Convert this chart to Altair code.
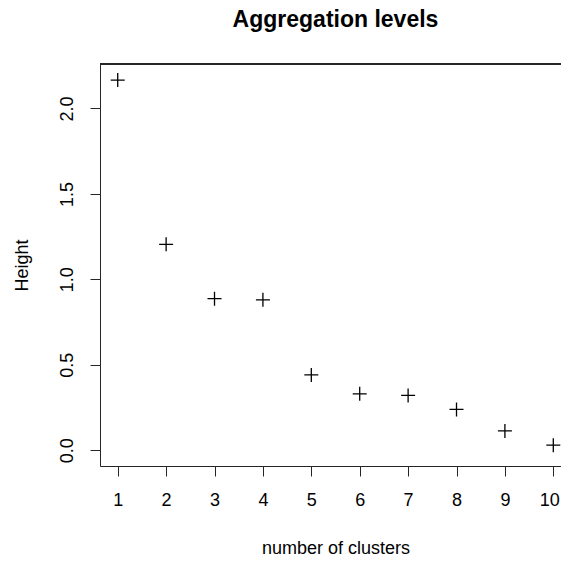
import altair as alt
import pandas as pd

clusters = [1, 2, 3, 4, 5, 6, 7, 8, 9, 10]
heights = [2.166, 1.205, 0.887, 0.880, 0.441, 0.330, 0.321, 0.239, 0.113, 0.030]
x_ticks = [1, 2, 3, 4, 5, 6, 7, 8, 9, 10]
y_ticks = [0.0, 0.5, 1.0, 1.5, 2.0]

df = pd.DataFrame({"k": clusters, "h": heights})

FONT = "Liberation Sans"
LINE = "#262626"

base = alt.Chart(df)

points = base.mark_point(
    shape="M-1,0H1M0,-1V1",
    filled=False,
    size=196,
    stroke="black",
    strokeWidth=1.3,
    opacity=1,
).encode(
    x=alt.X(
        "k:Q",
        scale=alt.Scale(domain=[0.634, 10.159], nice=False, zero=False),
        axis=alt.Axis(
            values=x_ticks,
            format="d",
            title="number of clusters",
            titleX=235.5,
            titleY=82,
            titleAlign="center",
            titleBaseline="middle",
            titleFont=FONT,
            titleFontSize=18,
            titleFontWeight="normal",
            titleColor="black",
            labelFont=FONT,
            labelFontSize=18,
            labelColor="black",
            labelPadding=15,
            labelOffset=alt.ExprRef("datum.value == 10 ? -4 : 0"),
            labelFlush=False,
            labelOverlap=False,
            tickSize=10,
            tickColor=LINE,
            tickWidth=1,
            domainColor=LINE,
            domainWidth=1,
            grid=False,
        ),
    ),
    y=alt.Y(
        "h:Q",
        scale=alt.Scale(domain=[-0.092, 2.26], nice=False, zero=False),
        axis=alt.Axis(
            values=y_ticks,
            format=".1f",
            title="Height",
            titleX=-78,
            titleY=201,
            titleAngle=270,
            titleAlign="center",
            titleBaseline="middle",
            titleFont=FONT,
            titleFontSize=18,
            titleFontWeight="normal",
            titleColor="black",
            labelFont=FONT,
            labelFontSize=18,
            labelColor="black",
            labelAngle=270,
            labelAlign="center",
            labelBaseline="bottom",
            labelPadding=14,
            labelFlush=False,
            labelOverlap=False,
            tickSize=10,
            tickColor=LINE,
            tickWidth=1,
            domainColor=LINE,
            domainWidth=1,
            grid=False,
        ),
    ),
)

top_line = base.mark_rule(color=LINE, strokeWidth=1).encode(
    x=alt.value(0), x2=alt.value(461), y=alt.value(0)
)

chart = (
    alt.layer(top_line, points)
    .properties(
        width=461,
        height=402,
        padding={"left": 92, "top": 56, "right": 0, "bottom": 95},
        autosize=alt.AutoSizeParams(type="none"),
        title=alt.TitleParams(
            "Aggregation levels",
            font=FONT,
            fontSize=23,
            fontWeight="bold",
            color="black",
            anchor="middle",
            dx=5,
            baseline="alphabetic",
            offset=14,
        ),
    )
    .configure_view(stroke=None)
    .configure(background="white")
)

chart.save("out.html", embed_options={"renderer": "svg", "actions": False})
